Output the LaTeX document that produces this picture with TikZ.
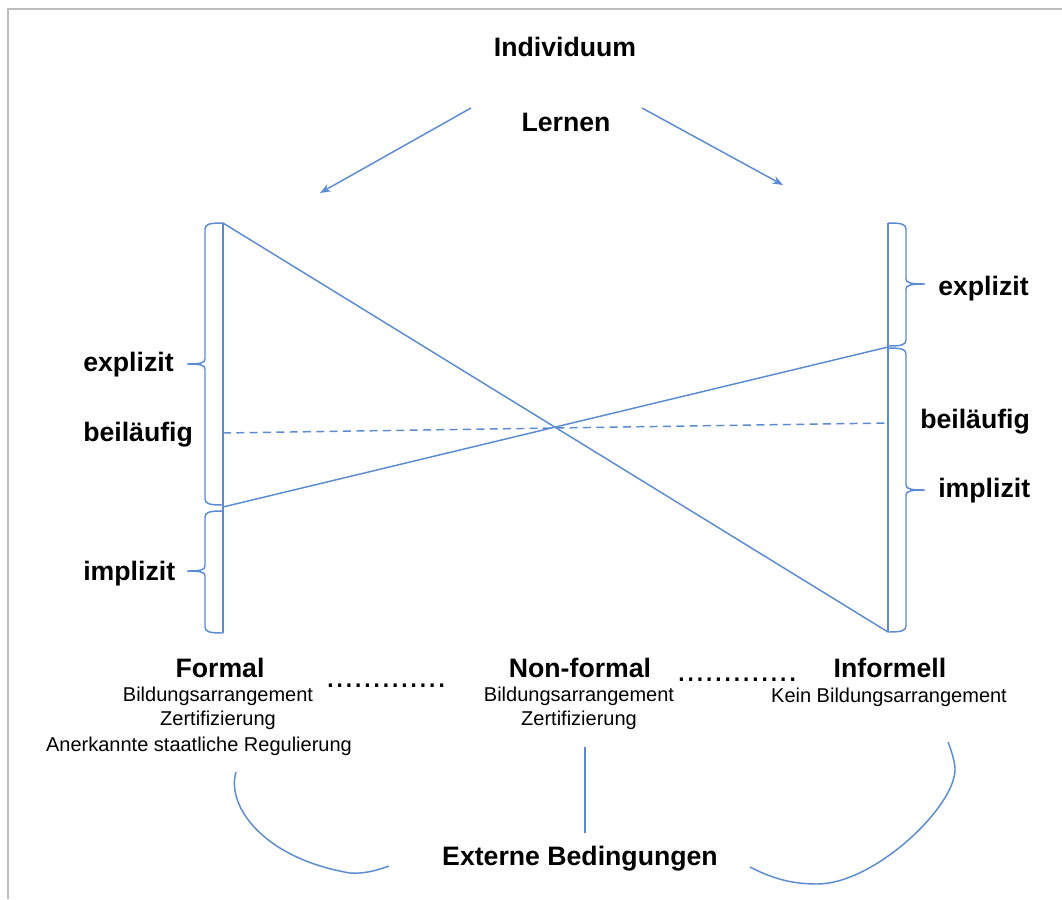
\documentclass[tikz,border=0pt]{standalone}
\usepackage{fontspec}
\setmainfont{Liberation Sans}
\usetikzlibrary{arrows.meta}
\definecolor{lineblue}{HTML}{5B8BD0}
\definecolor{framegray}{HTML}{BDBDBD}
\begin{document}
\begin{tikzpicture}[x=0.75pt,y=-0.75pt,
  conn/.style={draw=lineblue,line width=1.1pt},
  arr/.style={conn,-{Stealth[length=8pt,width=6pt]}},
  dashline/.style={conn,dash pattern=on 6pt off 4pt},
  big/.style={font=\fontsize{20}{24}\selectfont\bfseries,inner sep=0pt},
  small/.style={font=\fontsize{15}{18}\selectfont,inner sep=0pt},
  dotrow/.style={font=\fontsize{25}{30}\selectfont,inner sep=0pt}]
\useasboundingbox (0,0) rectangle (1062,899);
\draw[framegray,line width=1.3pt] (8,899) -- (8,9) -- (1062,9);

% top labels
\node[big,anchor=base] (ind) at (565,57) {Individuum};
\node[big,anchor=base] (lern) at (566,131) {Lernen};
\coordinate (la0) at (471,108);
\coordinate (la1) at (320,193);
\coordinate (ra0) at (642,108);
\coordinate (ra1) at (783,185);
\draw[arr] (la0) -- (la1);
\draw[arr] (ra0) -- (ra1);

% bars
\coordinate (LT) at (223,223);
\coordinate (LB) at (223,633);
\coordinate (RT) at (888,223);
\coordinate (RB) at (888,632);
\coordinate (LM) at (223,507);
\coordinate (RM) at (888,347);
\coordinate (LD) at (223,433);
\coordinate (RD) at (888,423);
\draw[conn] (LT) -- (LB);
\draw[conn] (RT) -- (RB);
\draw[conn] (LT) -- (RB);
\draw[conn] (LM) -- (RM);
\draw[dashline] (LD) -- (RD);

% left braces
\draw[conn] (223,223) .. controls (210,223) and (205,224) .. (205,229) -- (205,359)
  .. controls (205,363) and (200,364) .. (187,364)
  .. controls (200,364) and (205,365) .. (205,369) -- (205,499)
  .. controls (205,504) and (210,505) .. (223,505);
\draw[conn] (223,511) .. controls (210,511) and (205,512) .. (205,517) -- (205,566)
  .. controls (205,570) and (200,571) .. (187,571)
  .. controls (200,571) and (205,572) .. (205,576) -- (205,627)
  .. controls (205,632) and (210,633) .. (223,633);
% right braces
\draw[conn] (888,223) .. controls (901,223) and (906,224) .. (906,229) -- (906,279)
  .. controls (906,283) and (911,284) .. (925,284)
  .. controls (911,284) and (906,285) .. (906,289) -- (906,340)
  .. controls (906,345) and (901,346) .. (888,346);
\draw[conn] (888,348) .. controls (901,348) and (906,349) .. (906,354) -- (906,485)
  .. controls (906,489) and (911,490) .. (925,490)
  .. controls (911,490) and (906,491) .. (906,495) -- (906,626)
  .. controls (906,631) and (901,632) .. (888,632);

% side labels
\node[big,anchor=base west] (lexp) at (83,371) {explizit};
\node[big,anchor=base west] (lbei) at (83,441) {beiläufig};
\node[big,anchor=base west] (limp) at (83,580) {implizit};
\node[big,anchor=base west] (rexp) at (938,295) {explizit};
\node[big,anchor=base west] (rbei) at (920,428) {beiläufig};
\node[big,anchor=base west] (rimp) at (938,497) {implizit};

% bottom labels
\node[big,anchor=base] (formal) at (220,677) {Formal};
\node[small,anchor=base] (f1) at (218,701) {Bildungsarrangement};
\node[small,anchor=base] (f2) at (218,725) {Zertifizierung};
\node[small,anchor=base] (f3) at (199,751) {Anerkannte staatliche Regulierung};
\node[dotrow,anchor=base] (d1) at (386,687) {.............};
\node[big,anchor=base] (nonformal) at (580,677) {Non-formal};
\node[small,anchor=base] (n1) at (579,701) {Bildungsarrangement};
\node[small,anchor=base] (n2) at (579,725) {Zertifizierung};
\node[dotrow,anchor=base] (d2) at (737,681) {.............};
\node[big,anchor=base] (informell) at (890,677) {Informell};
\node[small,anchor=base] (i1) at (889,702) {Kein Bildungsarrangement};
\node[big,anchor=base] (ext) at (580,865) {Externe Bedingungen};

\coordinate (v0) at (585,747);
\coordinate (v1) at (585,833);
\draw[conn] (v0) -- (v1);

% arcs
\draw[conn] (236,772) .. controls (226,805) and (262,858) .. (350,873)
  .. controls (365,874) and (378,870) .. (389,866);
\draw[conn] (750,867) .. controls (775,880) and (795,884) .. (817,884)
  .. controls (875,884) and (957,805) .. (955,768)
  .. controls (954,758) and (951,750) .. (948,742);
\end{tikzpicture}
\end{document}
